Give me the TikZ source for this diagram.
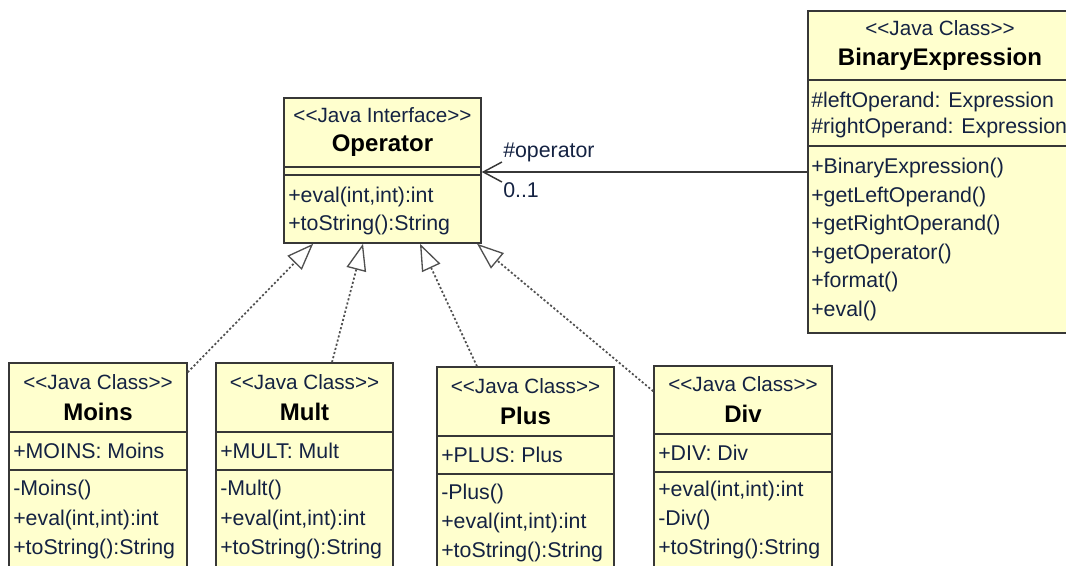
\documentclass[tikz,border=0pt]{standalone}
\usepackage{fontspec}
\setmainfont[Ligatures=TeXOff]{Liberation Sans}
\usepackage{tikz}
\usetikzlibrary{positioning,fit,arrows.meta}
\definecolor{boxfill}{RGB}{255,255,206}
\definecolor{boxline}{RGB}{55,55,55}
\definecolor{ink}{RGB}{20,34,66}
\definecolor{dotgray}{RGB}{80,80,80}
\tikzset{
  classbox/.style={draw=boxline,fill=boxfill,line width=1.1pt,inner sep=0pt},
  sepline/.style={draw=boxline,line width=1.1pt},
  stereo/.style={text=ink,font=\fontsize{15.5}{18}\selectfont,inner sep=0pt},
  cname/.style={font=\fontsize{18}{21}\selectfont\bfseries,inner sep=0pt},
  member/.style={anchor=west,text=ink,font=\fontsize{16}{19}\selectfont,inner sep=0pt},
  realize/.style={draw=dotgray,line width=1.3pt,dash pattern=on 1.6pt off 1.6pt,
    -{Triangle[open,length=20pt,width=15pt,line width=1pt]}},
  assoc/.style={draw=boxline,line width=1.1pt,-{Straight Barb[length=14pt,width=15pt]}},
}

\begin{document}
\begin{tikzpicture}[x=0.75pt,y=-0.75pt]
  \useasboundingbox (0,0) rectangle (1066,565);
  \clip (0,0) rectangle (1066,565);
  % interface Operator
  \node[classbox,fit={(284,98) (481,243)}] (op) {};
  \draw[sepline] (284,167) -- (481,167);
  \draw[sepline] (284,175) -- (481,175);
  \node[stereo] (opS) at (382.5,115) {<<Java Interface>>};
  \node[cname] (opN) at (382.5,146) {Operator};
  \node[member] (opM1) at (288,197) {+eval(int,int):int};
  \node[member] (opM2) at (288,225) {+toString():String};
  % class BinaryExpression
  \node[classbox,fit={(808,11) (1072,333)}] (binexp) {};
  \draw[sepline] (808,80) -- (1072,80);
  \draw[sepline] (808,146) -- (1072,146);
  \node[stereo] (beS) at (940,28) {<<Java Class>>};
  \node[cname] (beN) at (940,59) {BinaryExpression};
  \node[member] (beA1) at (811,102) {\#leftOperand: Expression};
  \node[member] (beA2) at (811,128) {\#rightOperand: Expression};
  \foreach \y/\txt in {168/{+BinaryExpression()},197/{+getLeftOperand()},
      225/{+getRightOperand()},254/{+getOperator()},282/{+format()},311/{+eval()}}
    \node[member] (beM\y) at (811,\y) {\txt};
  % class Moins
  \node[classbox,fit={(9,363) (187,600)}] (moins) {};
  \draw[sepline] (9,432) -- (187,432);
  \draw[sepline] (9,470) -- (187,470);
  \node[stereo] (moS) at (98,382) {<<Java Class>>};
  \node[cname] (moN) at (98,412) {Moins};
  \node[member] (moA) at (13,451) {+MOINS: Moins};
  \foreach \y/\txt in {490/{-Moins()},520/{+eval(int,int):int},549/{+toString():String}}
    \node[member] (moM\y) at (13,\y) {\txt};
  % class Mult
  \node[classbox,fit={(216,363) (393,600)}] (mult) {};
  \draw[sepline] (216,432) -- (393,432);
  \draw[sepline] (216,470) -- (393,470);
  \node[stereo] (muS) at (304.5,382) {<<Java Class>>};
  \node[cname] (muN) at (304.5,412) {Mult};
  \node[member] (muA) at (220,451) {+MULT: Mult};
  \foreach \y/\txt in {490/{-Mult()},520/{+eval(int,int):int},549/{+toString():String}}
    \node[member] (muM\y) at (220,\y) {\txt};
  % class Plus
  \node[classbox,fit={(437,367) (614,600)}] (plus) {};
  \draw[sepline] (437,436) -- (614,436);
  \draw[sepline] (437,474) -- (614,474);
  \node[stereo] (plS) at (525.5,386) {<<Java Class>>};
  \node[cname] (plN) at (525.5,416) {Plus};
  \node[member] (plA) at (441,455) {+PLUS: Plus};
  \foreach \y/\txt in {494/{-Plus()},523/{+eval(int,int):int},552/{+toString():String}}
    \node[member] (plM\y) at (441,\y) {\txt};
  % class Div
  \node[classbox,fit={(654,366) (832,600)}] (div) {};
  \draw[sepline] (654,434) -- (832,434);
  \draw[sepline] (654,472) -- (832,472);
  \node[stereo] (diS) at (743,384) {<<Java Class>>};
  \node[cname] (diN) at (743,414) {Div};
  \node[member] (diA) at (658,453) {+DIV: Div};
  \foreach \y/\txt in {491/{+eval(int,int):int},520/{-Div()},549/{+toString():String}}
    \node[member] (diM\y) at (658,\y) {\txt};
  % realizations
  \draw[realize] ([yshift=-7.5pt]moins.north east) -- ([xshift=-52pt]op.south);
  \draw[realize] ([xshift=20.6pt]mult.north) -- ([xshift=-14.6pt]op.south);
  \draw[realize] ([xshift=-36.4pt]plus.north) -- ([xshift=28.1pt]op.south);
  \draw[realize] ([yshift=-19.5pt]div.north west) -- ([xshift=70.9pt]op.south);
  % association
  \draw[assoc] (binexp.west) -- (binexp.west -| op.east);
  \node[member] (roleL) at (503,152) {\#operator};
  \node[member] (multL) at (503,190) {0..1};
\end{tikzpicture}
\end{document}
